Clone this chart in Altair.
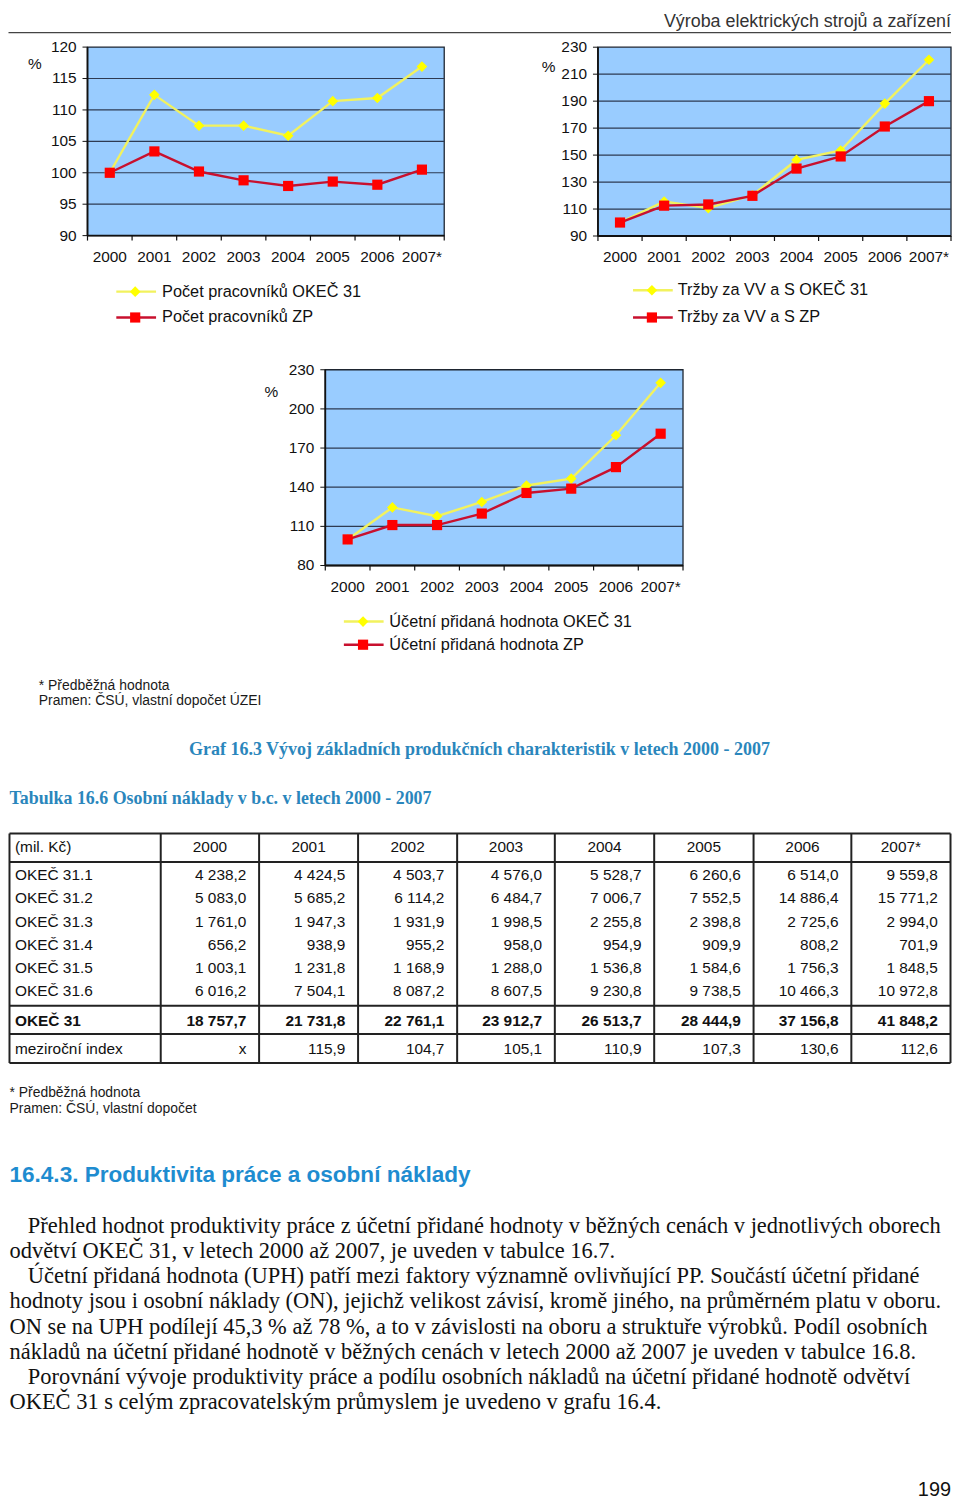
import altair as alt
import pandas as pd

OFF_X = 8.0
OFF_Y = 8.0
SANS = "Liberation Sans, Arial, Helvetica, sans-serif"
SERIF = "Liberation Serif, Times New Roman, serif"
INK = "#1a1a1a"
BLUE_CAP = "#2a86bc"
BLUE_HEAD = "#1e8cd0"
YELLOW = "#ffff00"
YELLOW_LINE = "#f2f25e"
RED = "#ff0000"
RED_LINE = "#c8102e"
PLOT_BG = "#99ccff"
GRID = "#2e3a52"

# ---------------- data ----------------
YEARS = ["2000", "2001", "2002", "2003", "2004", "2005", "2006", "2007*"]

EMP_NAMES = ["Počet pracovníků OKEČ 31", "Počet pracovníků ZP"]
EMP_OKEC = [100.0, 112.4, 107.5, 107.5, 105.9, 111.4, 111.9, 116.9]
EMP_ZP = [100.0, 103.4, 100.2, 98.8, 97.9, 98.6, 98.1, 100.5]
EMP_TICKS = [90, 95, 100, 105, 110, 115, 120]

SALES_NAMES = ["Tržby za VV a S OKEČ 31", "Tržby za VV a S ZP"]
SALES_OKEC = [100.0, 115.6, 110.7, 120.2, 146.4, 153.4, 188.2, 220.7]
SALES_ZP = [100.0, 112.5, 113.4, 119.8, 140.0, 149.0, 171.2, 190.0]
SALES_TICKS = [90, 110, 130, 150, 170, 190, 210, 230]

VA_NAMES = ["Účetní přidaná hodnota OKEČ 31", "Účetní přidaná hodnota ZP"]
VA_OKEC = [100.0, 124.5, 117.8, 128.7, 141.3, 146.6, 179.8, 220.0]
VA_ZP = [100.0, 111.0, 111.0, 119.8, 135.6, 138.9, 155.4, 181.0]
VA_TICKS = [80, 110, 140, 170, 200, 230]

TABLE_HEAD = ["(mil. Kč)", "2000", "2001", "2002", "2003", "2004", "2005", "2006", "2007*"]
ROW_LABELS = ["OKEČ 31.1", "OKEČ 31.2", "OKEČ 31.3", "OKEČ 31.4", "OKEČ 31.5", "OKEČ 31.6"]
OKEC_31_1 = [4238.2, 4424.5, 4503.7, 4576.0, 5528.7, 6260.6, 6514.0, 9559.8]
OKEC_31_2 = [5083.0, 5685.2, 6114.2, 6484.7, 7006.7, 7552.5, 14886.4, 15771.2]
OKEC_31_3 = [1761.0, 1947.3, 1931.9, 1998.5, 2255.8, 2398.8, 2725.6, 2994.0]
OKEC_31_4 = [656.2, 938.9, 955.2, 958.0, 954.9, 909.9, 808.2, 701.9]
OKEC_31_5 = [1003.1, 1231.8, 1168.9, 1288.0, 1536.8, 1584.6, 1756.3, 1848.5]
OKEC_31_6 = [6016.2, 7504.1, 8087.2, 8607.5, 9230.8, 9738.5, 10466.3, 10972.8]
TOTAL_LABEL = "OKEČ 31"
OKEC_31 = [18757.7, 21731.8, 22761.1, 23912.7, 26513.7, 28444.9, 37156.8, 41848.2]
INDEX_LABEL = "meziroční  index"
INDEX = [None, 115.9, 104.7, 105.1, 110.9, 107.3, 130.6, 112.6]

HEADER = "Výroba elektrických strojů a zařízení"
NOTE_1 = ["* Předběžná hodnota", "Pramen: ČSÚ, vlastní dopočet ÚZEI"]
CAPTION_GRAF = "Graf 16.3 Vývoj základních produkčních charakteristik v letech 2000 - 2007"
CAPTION_TAB = "Tabulka 16.6 Osobní náklady v b.c. v letech 2000 - 2007"
NOTE_2 = ["* Předběžná hodnota", "Pramen: ČSÚ, vlastní dopočet"]
HEADING = "16.4.3. Produktivita práce a osobní náklady"
PARA = [
    ("Přehled hodnot produktivity práce z účetní přidané hodnoty v běžných cenách v jednotlivých oborech", True),
    ("odvětví OKEČ 31, v letech 2000 až 2007, je uveden v tabulce 16.7.", False),
    ("Účetní přidaná hodnota (UPH) patří mezi faktory významně ovlivňující PP. Součástí účetní přidané", True),
    ("hodnoty jsou i osobní náklady (ON), jejichž velikost závisí, kromě jiného, na průměrném platu v oboru.", False),
    ("ON se na UPH podílejí 45,3 % až 78 %, a to v závislosti na oboru a struktuře výrobků. Podíl osobních", False),
    ("nákladů na účetní přidané hodnotě v běžných cenách v letech 2000 až 2007 je uveden v tabulce 16.8.", False),
    ("Porovnání vývoje produktivity práce a podílu osobních nákladů na účetní přidané hodnotě odvětví", True),
    ("OKEČ 31 s celým zpracovatelským průmyslem je uvedeno v grafu 16.4.", False),
]
PAGE_NO = "199"

LEFT = 9.5  # leftmost usable page x (page margin is 8px)

layers = []


def PX(v):
    return v - OFF_X


def PY(v):
    return v - OFF_Y


def txt(s, x, y, size, font=SANS, align="left", color=INK, weight="normal", baseline="middle"):
    layers.append(
        alt.Chart(pd.DataFrame({"t": [s]}))
        .mark_text(align=align, baseline=baseline, font=font, fontSize=size,
                   fontWeight=weight, color=color)
        .encode(x=alt.value(PX(x)), y=alt.value(PY(y)), text="t:N")
    )


def hline(x1, x2, y, color, w):
    layers.append(
        alt.Chart(pd.DataFrame({"a": [0]}))
        .mark_rule(color=color, strokeWidth=w)
        .encode(x=alt.value(PX(x1)), x2=alt.value(PX(x2)), y=alt.value(PY(y)))
    )


def panel(s_top, s_bot, names, ticks, box, pct, leg):
    L, R, T, B = PX(box[0]), PX(box[1]), PY(box[2]), PY(box[3])
    n = len(YEARS)
    xs = alt.Scale(domain=[0, n], range=[L, R], nice=False, zero=False)
    ys = alt.Scale(domain=[ticks[0], ticks[-1]], range=[B, T], nice=False, zero=False)

    def fx(f):
        return alt.X(f, scale=xs, axis=None)

    def fy(f):
        return alt.Y(f, scale=ys, axis=None)

    frame = pd.DataFrame({"x0": [0], "x1": [n], "y0": [ticks[0]], "y1": [ticks[-1]]})
    layers.append(alt.Chart(frame).mark_rect(fill=PLOT_BG, stroke="#1e2530", strokeWidth=1.3)
                  .encode(x=fx("x0:Q"), x2="x1:Q", y=fy("y0:Q"), y2="y1:Q"))
    tdf = pd.DataFrame({"t": ticks, "x0": 0, "x1": n})
    layers.append(alt.Chart(tdf.iloc[1:-1]).mark_rule(color=GRID, strokeWidth=1.2)
                  .encode(x=fx("x0:Q"), x2="x1:Q", y=fy("t:Q")))
    layers.append(alt.Chart(frame).mark_rule(color="#111", strokeWidth=1.8)
                  .encode(x=fx("x0:Q"), y=fy("y0:Q"), y2="y1:Q"))
    layers.append(alt.Chart(frame).mark_rule(color="#111", strokeWidth=1.8)
                  .encode(x=fx("x0:Q"), x2="x1:Q", y=fy("y0:Q")))
    layers.append(alt.Chart(tdf).mark_rule(color="#111", strokeWidth=1)
                  .encode(x=alt.value(L - 5), x2=alt.value(L), y=fy("t:Q")))
    layers.append(alt.Chart(tdf).mark_text(align="right", baseline="middle", font=SANS,
                                           fontSize=15.5, color="#111")
                  .encode(x=alt.value(L - 11), y=fy("t:Q"), text="t:Q"))
    edf = pd.DataFrame({"e": list(range(n + 1))})
    layers.append(alt.Chart(edf).mark_rule(color="#111", strokeWidth=1.2)
                  .encode(x=fx("e:Q"), y=alt.value(B), y2=alt.value(B + 5)))
    ldf = pd.DataFrame({"i": [k + 0.5 for k in range(n)], "lab": YEARS})
    layers.append(alt.Chart(ldf).mark_text(baseline="middle", font=SANS, fontSize=15.5, color="#111")
                  .encode(x=fx("i:Q"), y=alt.value(B + 21.5), text="lab:N"))

    styles = [(s_top, YELLOW_LINE, YELLOW, "diamond", 115),
              (s_bot, RED_LINE, RED, "square", 105)]
    for vals, lc, mc, shape, size in styles:
        sdf = pd.DataFrame({"i": [k + 0.5 for k in range(n)], "v": vals})
        layers.append(alt.Chart(sdf).mark_line(color=lc, strokeWidth=2.4)
                      .encode(x=fx("i:Q"), y=fy("v:Q")))
        layers.append(alt.Chart(sdf).mark_point(shape=shape, filled=True, size=size,
                                                color=mc, opacity=1)
                      .encode(x=fx("i:Q"), y=fy("v:Q")))

    txt("%", pct[0], pct[1], 15.5, color="#111", align="center")

    l0, l1, lm, lt, rows = leg
    for k, (name, st) in enumerate(zip(names, styles)):
        ly = PY(rows[k])
        d = pd.DataFrame({"t": [name]})
        layers.append(alt.Chart(d).mark_rule(color=st[1], strokeWidth=2.4)
                      .encode(x=alt.value(PX(l0)), x2=alt.value(PX(l1)), y=alt.value(ly)))
        layers.append(alt.Chart(d).mark_point(shape=st[3], filled=True, size=st[4],
                                              color=st[2], opacity=1)
                      .encode(x=alt.value(PX(lm)), y=alt.value(ly)))
        layers.append(alt.Chart(d).mark_text(align="left", baseline="middle", font=SANS,
                                             fontSize=16.4, color="#111")
                      .encode(x=alt.value(PX(lt)), y=alt.value(ly), text="t:N"))


# ---------------- header ----------------
txt(HEADER, 957, 22, 18, align="right", color="#333", baseline="alphabetic")
hline(LEFT - 1, 957, 28, "#444", 1.2)

# ---------------- charts ----------------
panel(EMP_OKEC, EMP_ZP, EMP_NAMES, EMP_TICKS, (88, 447, 42.6, 232.3), (35, 60),
      (117, 157, 136, 163, [288.7, 314.7]))
panel(SALES_OKEC, SALES_ZP, SALES_NAMES, SALES_TICKS, (601.7, 957, 42.7, 232.7), (552, 63),
      (637, 677, 656, 682, [287.3, 314.7]))
panel(VA_OKEC, VA_ZP, VA_NAMES, VA_TICKS, (327.3, 687.3, 367.3, 564.3), (273, 390),
      (346, 386, 365.3, 391.7, [620.7, 644]))

txt(NOTE_1[0], 39, 686, 14)
txt(NOTE_1[1], 39, 701, 14)

txt(CAPTION_GRAF, 482.5, 750, 18.1, font=SERIF, align="center", color=BLUE_CAP, weight="bold")
txt(CAPTION_TAB, LEFT, 799, 18, font=SERIF, color=BLUE_CAP, weight="bold")

# ---------------- table ----------------
COL_EDGES = [LEFT, 161.7, 260.7, 360.3, 460, 558.3, 658.3, 758.3, 856.7, 956.5]
ROW_LINES = [834, 862.7, 1007.3, 1035.7, 1065]
Y_HEAD = 847.3
Y_BODY = [876, 899.3, 923, 946.3, 969.3, 992.7]
Y_TOTAL = 1022.7
Y_INDEX = 1051.3
TEXT_LEFT = 15


def fmt(v):
    if v is None:
        return "x"
    return f"{v:,.1f}".replace(",", " ").replace(".", ",")


cells = []
cells.append((TABLE_HEAD[0], TEXT_LEFT, Y_HEAD, "left", "normal"))
for j, h in enumerate(TABLE_HEAD[1:]):
    cells.append((h, (COL_EDGES[j + 1] + COL_EDGES[j + 2]) / 2, Y_HEAD, "center", "normal"))
body = [OKEC_31_1, OKEC_31_2, OKEC_31_3, OKEC_31_4, OKEC_31_5, OKEC_31_6]
for lab, vals, y in zip(ROW_LABELS, body, Y_BODY):
    cells.append((lab, TEXT_LEFT, y, "left", "normal"))
    for j, v in enumerate(vals):
        cells.append((fmt(v), COL_EDGES[j + 2] - 12.8, y, "right", "normal"))
cells.append((TOTAL_LABEL, TEXT_LEFT, Y_TOTAL, "left", "bold"))
for j, v in enumerate(OKEC_31):
    cells.append((fmt(v), COL_EDGES[j + 2] - 12.8, Y_TOTAL, "right", "bold"))
cells.append((INDEX_LABEL, TEXT_LEFT, Y_INDEX, "left", "normal"))
for j, v in enumerate(INDEX):
    cells.append((fmt(v), COL_EDGES[j + 2] - 12.8, Y_INDEX, "right", "normal"))

cdf = pd.DataFrame(cells, columns=["t", "x", "y", "align", "weight"])
cdf["x"] = cdf["x"] - OFF_X
cdf["y"] = cdf["y"] - OFF_Y
for (al, wt), g in cdf.groupby(["align", "weight"]):
    layers.append(alt.Chart(g).mark_text(align=al, baseline="middle", font=SANS,
                                         fontSize=15.5, fontWeight=wt, color="#111")
                  .encode(x=alt.X("x:Q", scale=None), y=alt.Y("y:Q", scale=None), text="t:N"))

segs = []
for y in ROW_LINES:
    segs.append((COL_EDGES[0], y, COL_EDGES[-1], y))
for x in COL_EDGES:
    segs.append((x, ROW_LINES[0], x, ROW_LINES[-1]))
sdf = pd.DataFrame(segs, columns=["x", "y", "x2", "y2"])
sdf[["x", "x2"]] = sdf[["x", "x2"]] - OFF_X
sdf[["y", "y2"]] = sdf[["y", "y2"]] - OFF_Y
layers.append(alt.Chart(sdf).mark_rule(color="#222", strokeWidth=2)
              .encode(x=alt.X("x:Q", scale=None), y=alt.Y("y:Q", scale=None),
                      x2="x2:Q", y2="y2:Q"))

txt(NOTE_2[0], LEFT, 1095, 14)
txt(NOTE_2[1], LEFT, 1111, 14)

# ---------------- text ----------------
txt(HEADING, LEFT, 1178, 22.7, color=BLUE_HEAD, weight="bold")
for k, (line, indent) in enumerate(PARA):
    txt(line, 28 if indent else LEFT, 1229 + k * 25.3, 22.6, font=SERIF, color="#111")

txt(PAGE_NO, 957, 1495, 20, align="right", color="#111")

chart = (
    alt.layer(*layers)
    .resolve_scale(x="independent", y="independent")
    .properties(width=950, height=1497, padding=0, background="white",
                autosize=alt.AutoSizeParams(type="none"))
    .configure_view(stroke=None)
)

chart.save("out.html", embed_options={"renderer": "svg", "actions": False})
